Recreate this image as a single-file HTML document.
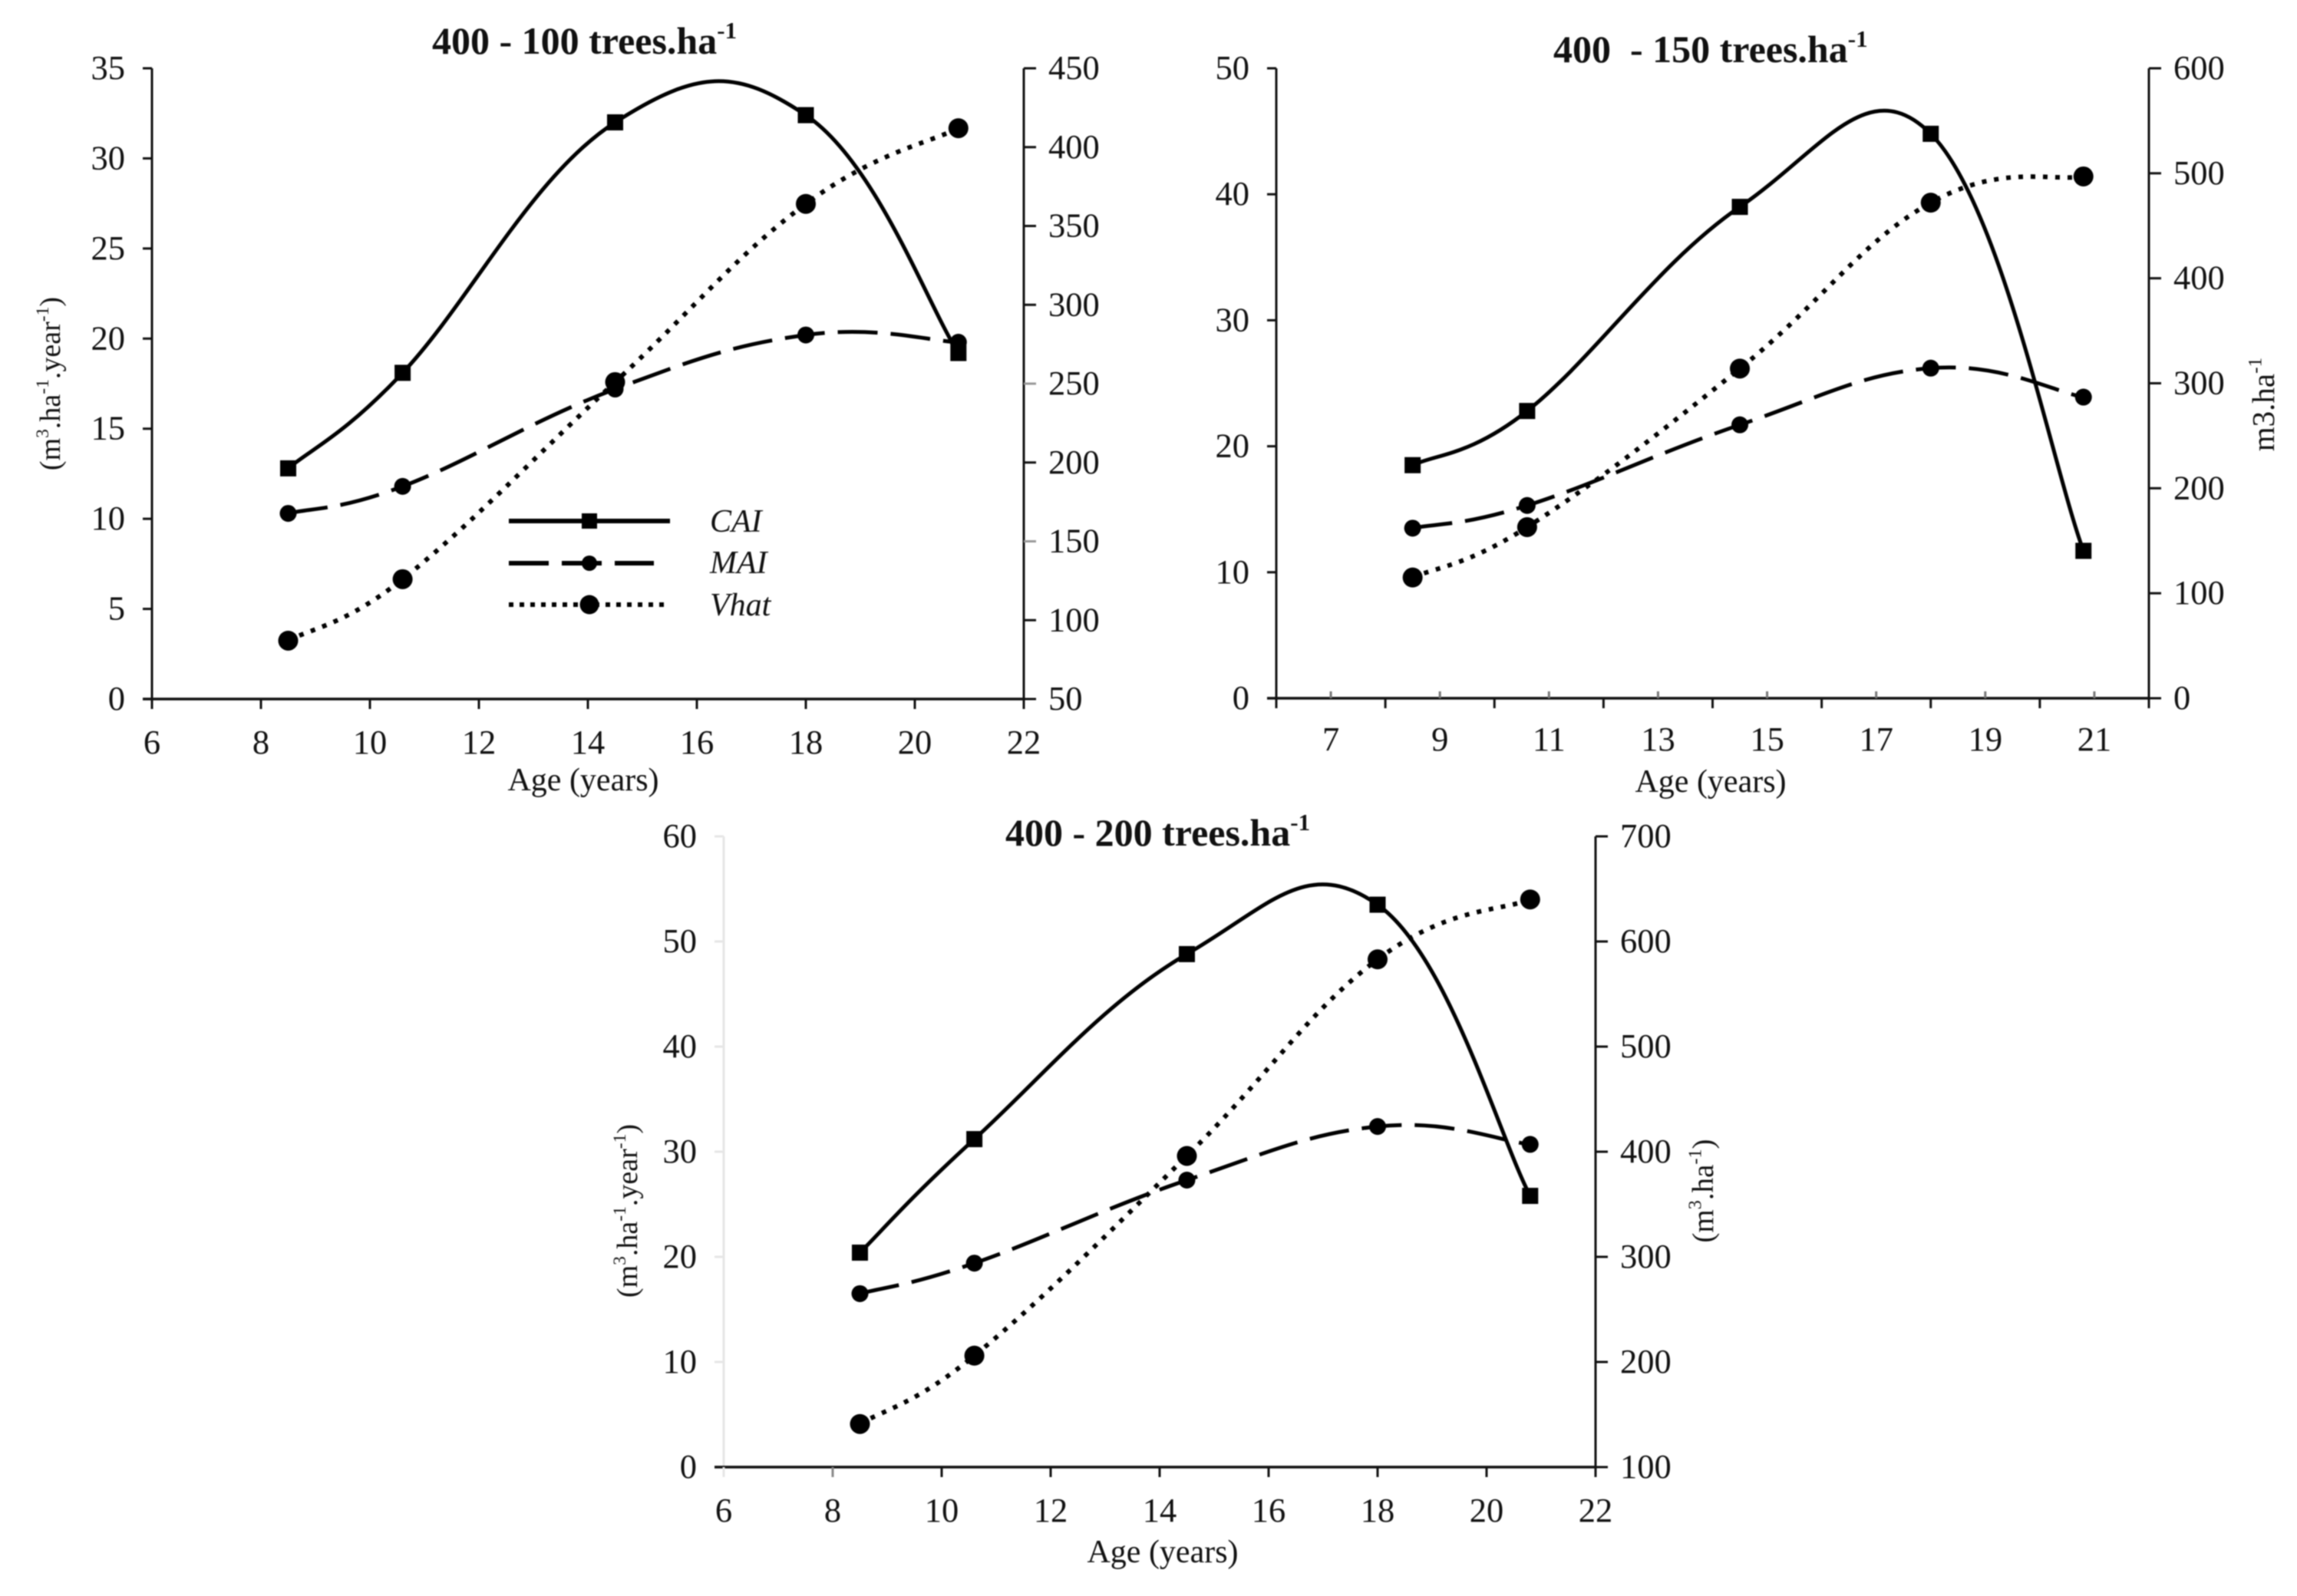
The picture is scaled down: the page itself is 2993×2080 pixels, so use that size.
<!DOCTYPE html>
<html lang="en">
<head>
<meta charset="utf-8">
<title>CAI, MAI and Vhat by age and thinning regime</title>
<style>
html,body{margin:0;padding:0;background:#fff;}
body{width:2993px;height:2080px;overflow:hidden;}
svg{display:block;filter:blur(0.8px);}
text{font-family:"Liberation Serif",serif;fill:#111;white-space:pre;}
</style>
</head>
<body>
<svg id="figure" xmlns="http://www.w3.org/2000/svg" width="2993" height="2080" viewBox="0 0 2993 2080"></svg>
<script>
// Shared data
const ages = [8.5, 10.6, 14.5, 18, 20.8];

// Chart 1: 400 - 100 trees.ha-1
const cai100 = [12.8, 18.1, 32.0, 32.4, 19.2];
const mai100 = [10.3, 11.8, 17.2, 20.2, 19.8];
const vhat100 = [87, 126, 251, 364, 412];
const leftTicks100 = [0, 5, 10, 15, 20, 25, 30, 35];
const rightTicks100 = [50, 100, 150, 200, 250, 300, 350, 400, 450];
const xTicks100 = [6, 8, 10, 12, 14, 16, 18, 20, 22];

// Chart 2: 400 - 150 trees.ha-1
const cai150 = [18.5, 22.8, 39.0, 44.8, 11.7];
const mai150 = [13.5, 15.3, 21.7, 26.2, 23.9];
const vhat150 = [115, 163, 314, 472, 497];
const leftTicks150 = [0, 10, 20, 30, 40, 50];
const rightTicks150 = [0, 100, 200, 300, 400, 500, 600];
const xMajor150 = [6, 8, 10, 12, 14, 16, 18, 20, 22];
const xLabels150 = [7, 9, 11, 13, 15, 17, 19, 21];

// Chart 3: 400 - 200 trees.ha-1
const cai200 = [20.4, 31.2, 48.8, 53.5, 25.8];
const mai200 = [16.5, 19.4, 27.3, 32.4, 30.7];
const vhat200 = [141, 206, 396, 583, 640];
const leftTicks200 = [0, 10, 20, 30, 40, 50, 60];
const rightTicks200 = [100, 200, 300, 400, 500, 600, 700];
const xTicks200 = [6, 8, 10, 12, 14, 16, 18, 20, 22];

const NS = 'http://www.w3.org/2000/svg';
const root = document.getElementById('figure');

function mk(parent, tag, attrs, text) {
  const el = document.createElementNS(NS, tag);
  for (const k in attrs) el.setAttribute(k, attrs[k]);
  if (text !== undefined) el.textContent = text;
  parent.appendChild(el);
  return el;
}

function smoothPath(pts) {
  let d = 'M' + pts[0][0] + ' ' + pts[0][1];
  const dist = (a, b) => Math.hypot(a[0] - b[0], a[1] - b[1]);
  for (let i = 0; i < pts.length - 1; i++) {
    const p0 = pts[i - 1] || pts[i], p1 = pts[i], p2 = pts[i + 1], p3 = pts[i + 2] || pts[i + 1];
    const d1 = dist(p0, p1), d2 = dist(p1, p2), d3 = dist(p2, p3);
    const a = Math.min(0.205, 0.58 * d2 / (d1 + d2)), b = Math.min(0.205, 0.58 * d2 / (d2 + d3));
    const c1 = [p1[0] + (p2[0] - p0[0]) * a, p1[1] + (p2[1] - p0[1]) * a];
    const c2 = [p2[0] - (p3[0] - p1[0]) * b, p2[1] - (p3[1] - p1[1]) * b];
    d += 'C' + c1[0] + ' ' + c1[1] + ' ' + c2[0] + ' ' + c2[1] + ' ' + p2[0] + ' ' + p2[1];
  }
  return d;
}

function titleText(parent, x, y, size, parts, anchor, transform, bold) {
  const attrs = { x: x, y: y, 'font-size': size, 'text-anchor': anchor || 'start' };
  if (transform) attrs.transform = transform;
  if (bold) attrs['font-weight'] = 'bold';
  const t = mk(parent, 'text', attrs);
  parts.forEach(function (p) {
    const a = {};
    if (p.sup) { a['font-size'] = size * 0.62; a.dy = -size * 0.4; }
    else if (p.after) { a.dy = size * 0.4; }
    mk(t, 'tspan', a, p.s);
  });
  return t;
}

function drawChart(c) {
  const g = mk(root, 'g', {});
  
  
  const sx = v => c.left + (v - c.xMin) / (c.xMax - c.xMin) * (c.right - c.left);
  const syL = v => c.bottom - (v - c.lMin) / (c.lMax - c.lMin) * (c.bottom - c.top);
  const syR = v => c.bottom - (v - c.rMin) / (c.rMax - c.rMin) * (c.bottom - c.top);

  // Title
  const title = titleText(g, c.titleX, c.titleY, 50, [{ s: c.title }, { s: '-1', sup: true }], 'start', null, true);
  
  

  // Left axis
  const leftAxis = mk(g, 'line', { x1: c.left, x2: c.left, y1: c.top, y2: c.bottom, stroke: c.leftColor, 'stroke-width': 3 });
  
  
  c.leftTicks.forEach(function (v) {
    const tk = mk(g, 'line', { x1: c.left - 12, x2: c.left, y1: syL(v), y2: syL(v), stroke: c.leftColor, 'stroke-width': 3 });
    
    
    const lb = mk(g, 'text', { x: c.left - 35, y: syL(v) + 14, 'font-size': 44.5, 'text-anchor': 'end' }, String(v));
    
    
  });

  // Right axis
  const rightAxis = mk(g, 'line', { x1: c.right, x2: c.right, y1: c.top, y2: c.bottom, stroke: '#111', 'stroke-width': 3 });
  
  
  c.rightTicks.forEach(function (v) {
    const faint = c.faintRight && c.faintRight.indexOf(v) >= 0;
    const tk = mk(g, 'line', { x1: c.right, x2: c.right + 16, y1: syR(v), y2: syR(v), stroke: faint ? '#999' : '#111', 'stroke-width': 3 });
    
    
    const lb = mk(g, 'text', { x: c.right + 32, y: syR(v) + 14, 'font-size': 44.5 }, String(v));
    
    
  });

  // X axis
  const xAxis = mk(g, 'line', { x1: c.left - 12, x2: c.right, y1: c.bottom, y2: c.bottom, stroke: '#111', 'stroke-width': 3.5 });
  
  
  c.xTicks.forEach(function (v) {
    const col = (c.tickShade && c.tickShade[v]) || '#111';
    const tk = mk(g, 'line', { x1: sx(v), x2: sx(v), y1: c.bottom, y2: c.bottom + 13, stroke: col, 'stroke-width': 3 });
    
    
  });
  c.xLabels.forEach(function (v) {
    if (c.minorUp) {
      const mt = mk(g, 'line', { x1: sx(v), x2: sx(v), y1: c.bottom - 9, y2: c.bottom, stroke: '#777', 'stroke-width': 3 });
      
      
    }
    const lb = mk(g, 'text', { x: sx(v), y: c.xLabelY, 'font-size': 44.5, 'text-anchor': 'middle' }, String(v));
    
    
  });

  const xt = mk(g, 'text', { x: c.xTitleX, y: c.xTitleY, 'font-size': 42, 'text-anchor': 'middle' }, 'Age (years)');
  
  

  // Y titles
  if (c.leftTitle) {
    const lt = titleText(g, 0, 0, 38, [{ s: '(m' }, { s: '3', sup: true }, { s: '.ha', after: true }, { s: '-1', sup: true }, { s: '.year', after: true }, { s: '-1', sup: true }, { s: ')', after: true }], 'middle', 'translate(' + c.leftTitle[0] + ' ' + c.leftTitle[1] + ') rotate(-90)');
    
    
  }
  if (c.rightTitle) {
    const parts = c.rightPlain
      ? [{ s: 'm3.ha' }, { s: '-1', sup: true }]
      : [{ s: '(m' }, { s: '3', sup: true }, { s: '.ha', after: true }, { s: '-1', sup: true }, { s: ')', after: true }];
    const rt = titleText(g, 0, 0, c.rightPlain ? 41 : 39, parts, 'middle', 'translate(' + c.rightTitle[0] + ' ' + c.rightTitle[1] + ') rotate(-90)');
    
    
  }

  // Series lines
  const caiPts = c.cai.map((v, i) => [sx(ages[i]), syL(v)]);
  const maiPts = c.mai.map((v, i) => [sx(ages[i]), syL(v)]);
  const vhatPts = c.vhat.map((v, i) => [sx(ages[i]), syR(v)]);

  const vhatLine = mk(g, 'path', { d: smoothPath(vhatPts), fill: 'none', stroke: '#000', 'stroke-width': 6, 'stroke-dasharray': '6 10' });
  
  
  const maiLine = mk(g, 'path', { d: smoothPath(maiPts), fill: 'none', stroke: '#000', 'stroke-width': 5, 'stroke-dasharray': '52 17' });
  
  
  const caiLine = mk(g, 'path', { d: smoothPath(caiPts), fill: 'none', stroke: '#000', 'stroke-width': 5 });
  
  

  // Series markers
  caiPts.forEach(function (p) {
    const m = mk(g, 'rect', { x: p[0] - 10.5, y: p[1] - 10.5, width: 21, height: 21, fill: '#000' });
    
    
  });
  maiPts.forEach(function (p) {
    const m = mk(g, 'circle', { cx: p[0], cy: p[1], r: 11, fill: '#000' });
    
    
  });
  vhatPts.forEach(function (p) {
    const m = mk(g, 'circle', { cx: p[0], cy: p[1], r: 13, fill: '#000' });
    
    
  });
}

drawChart({
  name: 'chart-400-100', title: '400 - 100 trees.ha', titleX: 563, titleY: 70,
  left: 198, right: 1334, top: 89, bottom: 911,
  xMin: 6, xMax: 22, lMin: 0, lMax: 35, rMin: 50, rMax: 450,
  leftColor: '#111', leftTicks: leftTicks100, rightTicks: rightTicks100, faintRight: [150, 250],
  xTicks: xTicks100, xLabels: xTicks100, xLabelY: 982, minorUp: false,
  xTitleX: 760, xTitleY: 1030, leftTitle: [78, 500],
  cai: cai100, mai: mai100, vhat: vhat100
});

drawChart({
  name: 'chart-400-150', title: '400  - 150 trees.ha', titleX: 2024, titleY: 81,
  left: 1663, right: 2800, top: 89, bottom: 910,
  xMin: 6, xMax: 22, lMin: 0, lMax: 50, rMin: 0, rMax: 600,
  leftColor: '#111', leftTicks: leftTicks150, rightTicks: rightTicks150,
  xTicks: xMajor150, xLabels: xLabels150, xLabelY: 978, minorUp: true,
  xTitleX: 2229, xTitleY: 1032, rightTitle: [2963, 527], rightPlain: true,
  cai: cai150, mai: mai150, vhat: vhat150
});

drawChart({
  name: 'chart-400-200', title: '400 - 200 trees.ha', titleX: 1310, titleY: 1102,
  left: 943, right: 2079, top: 1090, bottom: 1912,
  xMin: 6, xMax: 22, lMin: 0, lMax: 60, rMin: 100, rMax: 700,
  leftColor: '#e6e6e6', leftTicks: leftTicks200, rightTicks: rightTicks200,
  tickShade: { 6: '#e6e6e6', 8: '#888' },
  xTicks: xTicks200, xLabels: xTicks200, xLabelY: 1983, minorUp: false,
  xTitleX: 1515, xTitleY: 2036, leftTitle: [830, 1578], rightTitle: [2232, 1552],
  cai: cai200, mai: mai200, vhat: vhat200
});

// Legend
const legend = mk(root, 'g', {});


const legendLabels = ['CAI', 'MAI', 'Vhat'];

const l1 = mk(legend, 'line', { x1: 663, x2: 873, y1: 679, y2: 679, stroke: '#000', 'stroke-width': 6 });


const m1 = mk(legend, 'rect', { x: 758, y: 669, width: 20, height: 20, fill: '#000' });


const t1 = mk(legend, 'text', { x: 925, y: 693, 'font-size': 42, 'font-style': 'italic' }, legendLabels[0]);



const l2 = mk(legend, 'line', { x1: 663, x2: 852, y1: 734, y2: 734, stroke: '#000', 'stroke-width': 6, 'stroke-dasharray': '52 17' });


const m2 = mk(legend, 'circle', { cx: 768, cy: 734, r: 10, fill: '#000' });


const t2 = mk(legend, 'text', { x: 925, y: 747, 'font-size': 42, 'font-style': 'italic' }, legendLabels[1]);



const l3 = mk(legend, 'line', { x1: 663, x2: 873, y1: 788, y2: 788, stroke: '#000', 'stroke-width': 6, 'stroke-dasharray': '6 8' });


const m3 = mk(legend, 'circle', { cx: 768, cy: 788, r: 12.5, fill: '#000' });


const t3 = mk(legend, 'text', { x: 925, y: 802, 'font-size': 42, 'font-style': 'italic' }, legendLabels[2]);


</script>
</body>
</html>
